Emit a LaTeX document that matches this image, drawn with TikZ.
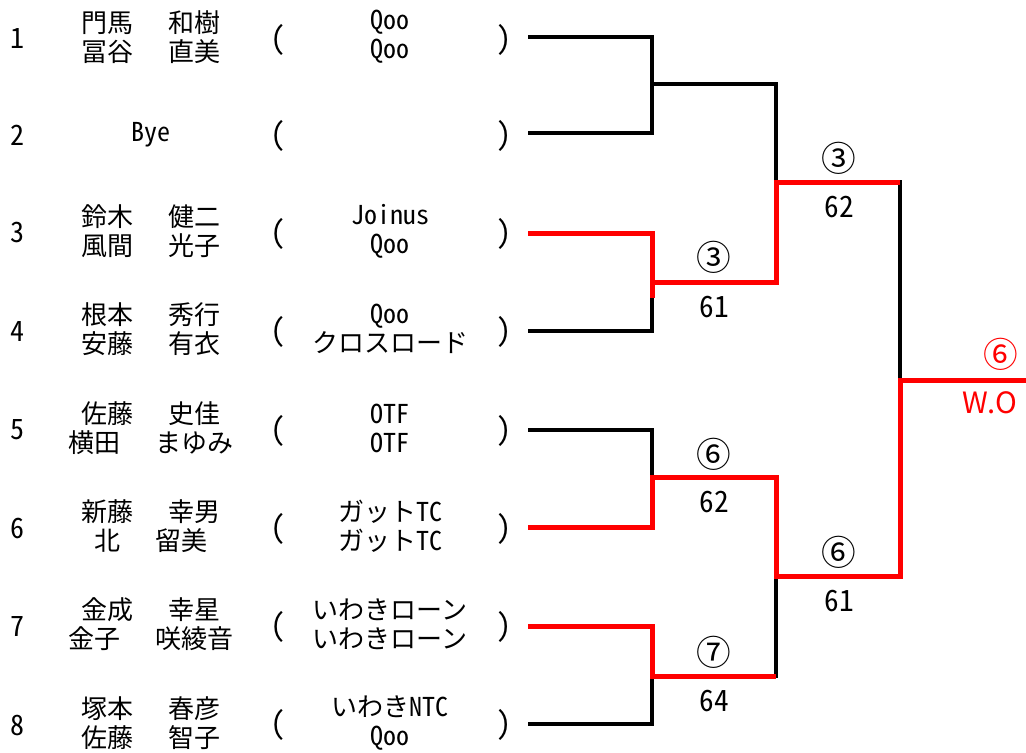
\documentclass[tikz,border=0pt]{standalone}
\usepackage{fontspec}
\setmainfont{Noto Sans CJK JP}
\newfontfamily\hwfont{Noto Sans CJK JP}[RawFeature=+hwid]
\newcommand\hw[1]{{\hwfont #1}}
\newcommand\gap{\hspace{1.35em}}
\definecolor{wred}{RGB}{255,0,0}
\tikzset{
  bk/.style={line width=2.5pt, black},
  rd/.style={line width=3.75pt, wred},
  txt/.style={font=\fontsize{19.5}{21.75}\selectfont, inner sep=0pt, align=center},
  numb/.style={font=\fontsize{21}{22}\selectfont, inner sep=0pt},
  par/.style={font=\fontsize{23}{24}\selectfont, inner sep=0pt},
  lbl/.style={font=\fontsize{22}{24}\selectfont, inner sep=0pt},
  circ/.style={font=\fontsize{26}{28}\selectfont, inner sep=0pt},
}
\begin{document}
\begin{tikzpicture}[x=0.75pt,y=-0.75pt]
\useasboundingbox (0,0) rectangle (1026,753);
% ---------- row texts ----------
\node[numb] (no1) at (18,39) {\hw{1}};
\node[txt] (nm1) at (151,37) {門馬\gap 和樹\\冨谷\gap 直美};
\node[par] (lp1) at (278,40) {\hw{(}};
\node[txt] (cl1) at (390,37) {\hw{Qoo}\\\hw{Qoo}};
\node[par] (rp1) at (504,40) {\hw{)}};

\node[numb] (no2) at (18,135) {\hw{2}};
\node[txt] (nm2) at (151,135) {\hw{Bye}};
\node[par] (lp2) at (278,136) {\hw{(}};
\node[par] (rp2) at (504,136) {\hw{)}};

\node[numb] (no3) at (18,233) {\hw{3}};
\node[txt] (nm3) at (151,231) {鈴木\gap 健二\\風間\gap 光子};
\node[par] (lp3) at (278,234) {\hw{(}};
\node[txt] (cl3) at (390,231) {\hw{Joinus}\\\hw{Qoo}};
\node[par] (rp3) at (504,234) {\hw{)}};

\node[numb] (no4) at (18,332) {\hw{4}};
\node[txt] (nm4) at (151,329) {根本\gap 秀行\\安藤\gap 有衣};
\node[par] (lp4) at (278,332) {\hw{(}};
\node[txt] (cl4) at (390,329) {\hw{Qoo}\\クロスロード};
\node[par] (rp4) at (504,332) {\hw{)}};

\node[numb] (no5) at (18,430) {\hw{5}};
\node[txt] (nm5) at (151,428) {佐藤\gap 史佳\\横田\gap まゆみ};
\node[par] (lp5) at (278,431) {\hw{(}};
\node[txt] (cl5) at (390,428) {\hw{OTF}\\\hw{OTF}};
\node[par] (rp5) at (504,431) {\hw{)}};

\node[numb] (no6) at (18,529) {\hw{6}};
\node[txt] (nm6) at (151,526) {新藤\gap 幸男\\北\gap 留美};
\node[par] (lp6) at (278,529) {\hw{(}};
\node[txt] (cl6) at (390,526) {ガット\hw{TC}\\ガット\hw{TC}};
\node[par] (rp6) at (504,529) {\hw{)}};

\node[numb] (no7) at (18,627) {\hw{7}};
\node[txt] (nm7) at (151,624) {金成\gap 幸星\\金子\gap 咲綾音};
\node[par] (lp7) at (278,627) {\hw{(}};
\node[txt] (cl7) at (390,624) {いわきローン\\いわきローン};
\node[par] (rp7) at (504,627) {\hw{)}};

\node[numb] (no8) at (18,725) {\hw{8}};
\node[txt] (nm8) at (151,723) {塚本\gap 春彦\\佐藤\gap 智子};
\node[par] (lp8) at (278,725) {\hw{(}};
\node[txt] (cl8) at (390,723) {いわき\hw{NTC}\\\hw{Qoo}};
\node[par] (rp8) at (504,725) {\hw{)}};

% ---------- bracket coordinates ----------
\coordinate (e1) at (528,37);
\coordinate (e2) at (528,133);
\coordinate (e3) at (528,233);
\coordinate (e4) at (528,331);
\coordinate (e5) at (528,430);
\coordinate (e6) at (528,527);
\coordinate (e7) at (528,626);
\coordinate (e8) at (528,724);
\coordinate (j12) at (652,84);
\coordinate (j34) at (652,282);
\coordinate (j34r) at (652,298);
\coordinate (j56) at (652,477);
\coordinate (j78) at (652,676);
\coordinate (k1) at (776,182);
\coordinate (k2) at (776,576);
\coordinate (k78) at (776,676);
\coordinate (f1) at (900,182);
\coordinate (f2) at (900,576);
\coordinate (f) at (900,380);
\coordinate (fin) at (1026,380);

% ---------- black bracket ----------
\draw[bk] (e1) -| (j12) |- (e2);
\draw[bk] (e3) -| (j34) |- (e4);
\draw[bk] (e5) -| (j56) |- (e6);
\draw[bk] (e7) -| (j78) |- (e8);
\draw[bk] (j12) -| (k1) |- (j34);
\draw[bk] (j56) -| (k2) |- (j78);
\draw[bk] (k1) -- (f1) -- (f2) -- (k2);

% ---------- winners (red) ----------
\draw[rd] (e3) -| (j34r);
\draw[rd] (j34) -| (k1) -- (f1);
\draw[rd] (e6) -| (j56) -| (k2) -- (f2) -- (f) -- (fin);
\draw[rd] (e7) -| (j78) -- (k78);

% ---------- results ----------
\node[circ] (w34) at (714,257) {③};
\node[lbl]  (s34) at (714,307) {\hw{61}};
\node[circ] (w56) at (714,454) {⑥};
\node[lbl]  (s56) at (714,502) {\hw{62}};
\node[circ] (w78) at (714,652) {⑦};
\node[lbl]  (s78) at (714,701) {\hw{64}};
\node[circ] (wt) at (839,158) {③};
\node[lbl]  (st) at (839,207) {\hw{62}};
\node[circ] (wb) at (839,552) {⑥};
\node[lbl]  (sb) at (839,601) {\hw{61}};
\node[circ, text=wred] (wf) at (1001,354) {⑥};
\node[lbl, text=wred]  (sf) at (990,403) {W.O};
\end{tikzpicture}
\end{document}
